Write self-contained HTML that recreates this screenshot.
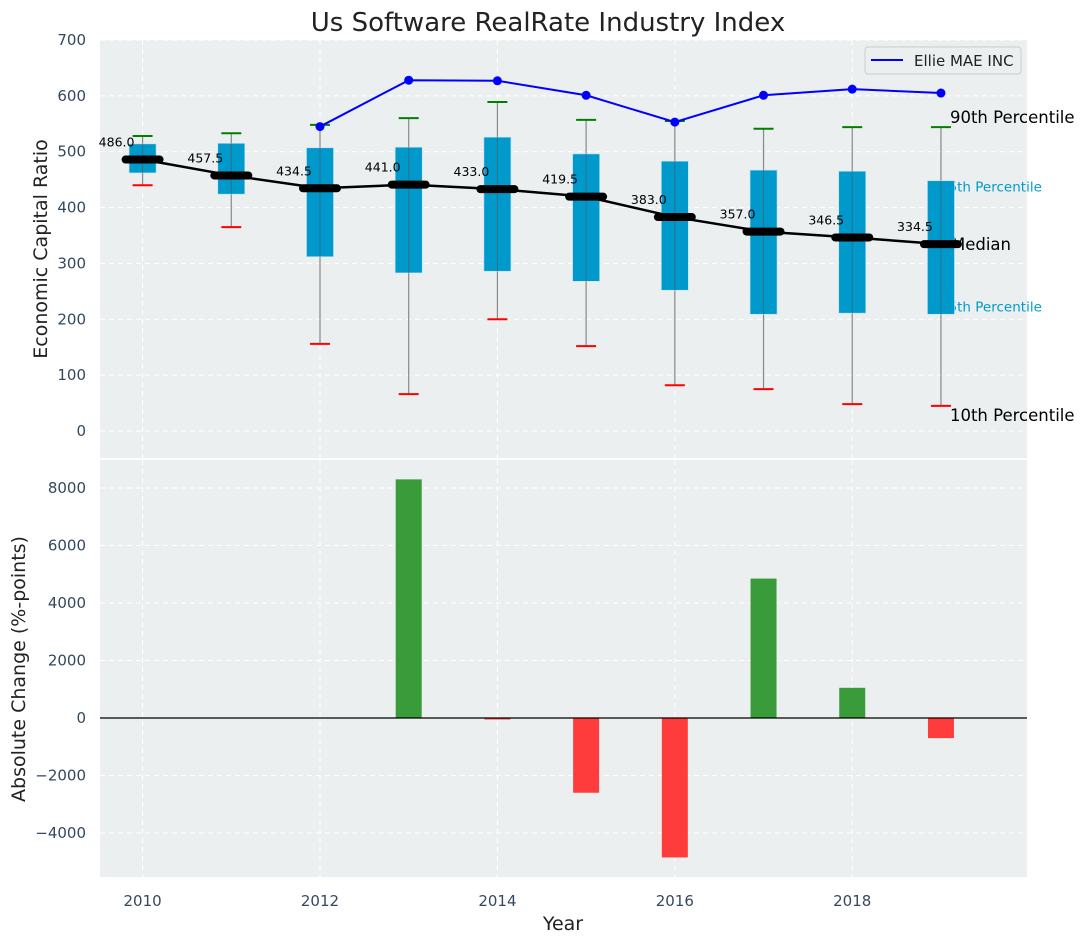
<!DOCTYPE html>
<html><head><meta charset="utf-8"><style>
body{margin:0;background:#fff;font-family:"DejaVu Sans","Liberation Sans",sans-serif}
</style></head><body>
<svg id="chart" width="1085" height="942" xmlns="http://www.w3.org/2000/svg" font-family="DejaVu Sans, Liberation Sans, sans-serif"></svg>
<script>
const years=[2010,2011,2012,2013,2014,2015,2016,2017,2018,2019];
const p90=[528,533,548,560,589,557,555,541,544,544];
const q75=[514,515,507,508,526,496,483,467,465,448];
const medians=[486.0,457.5,434.5,441.0,433.0,419.5,383.0,357.0,346.5,334.5];
const q25=[462,424,312,283,286,268,252,209,211,209];
const p10=[440,365,156,66,200,152,82,75,48,45];
const ellie=[null,null,545,628,627,601,553,601,612,605];
const changes=[0,0,0,8300,-50,-2600,-4850,4850,1050,-700];
const topTicks=[0,100,200,300,400,500,600,700];
const botTicks=[-4000,-2000,0,2000,4000,6000,8000];
const xTicks=[2010,2012,2014,2016,2018];

const svg=document.getElementById('chart');
const NS='http://www.w3.org/2000/svg';
function el(tag,attrs,parent,text){const e=document.createElementNS(NS,tag);for(const k in attrs)e.setAttribute(k,attrs[k]);if(text!==undefined)e.textContent=text;(parent||svg).appendChild(e);return e;}
const L=100,R=1027;
const x=v=>L+(v-2009.52)/(2019.97-2009.52)*(R-L);
const T0=40,T1=458; const yT=v=>431-v*0.5586;
const B0=460,B1=877; const yB=v=>718-v*0.02875;

let t=el('text',{x:548,y:31,'text-anchor':'middle','font-size':26,fill:'#222'},svg,'Us Software RealRate Industry Index');


let p=el('rect',{x:L,y:T0,width:R-L,height:T1-T0,fill:'#ebeff0'});

p=el('rect',{x:L,y:B0,width:R-L,height:B1-B0,fill:'#ebeff0'});


const g=el('g',{stroke:'#fff','stroke-dasharray':'5,4','stroke-width':1});

topTicks.forEach(v=>el('line',{x1:L,x2:R,y1:yT(v),y2:yT(v)},g));
botTicks.forEach(v=>el('line',{x1:L,x2:R,y1:yB(v),y2:yB(v)},g));
xTicks.forEach(v=>{el('line',{x1:x(v),x2:x(v),y1:T0,y2:T1},g);el('line',{x1:x(v),x2:x(v),y1:B0,y2:B1},g);});

topTicks.forEach(v=>{const e=el('text',{x:86,y:yT(v)+5,'text-anchor':'end','font-size':15,fill:'#34495e'},svg,String(v));});
botTicks.forEach(v=>{const e=el('text',{x:86,y:yB(v)+5,'text-anchor':'end','font-size':15,fill:'#34495e'},svg,String(v).replace('-','−'));});
xTicks.forEach(v=>{const e=el('text',{x:x(v),y:906,'text-anchor':'middle','font-size':15,fill:'#34495e'},svg,String(v));});

let a=el('text',{x:47,y:249,'text-anchor':'middle','font-size':19,fill:'#222',transform:'rotate(-90 47 249)'},svg,'Economic Capital Ratio');

a=el('text',{x:25,y:669,'text-anchor':'middle','font-size':19,fill:'#222',transform:'rotate(-90 25 669)'},svg,'Absolute Change (%-points)');

a=el('text',{x:563,y:930,'text-anchor':'middle','font-size':19,fill:'#222'},svg,'Year');


const lx=x(2019);
const rl=[['90th Percentile',p90[9],-4,'#000',16.5,lx+9],['75th Percentile',q75[9],11,'#0099cc',13.5,lx-1],['Median',medians[9],6,'#000',16.5,lx+10],['25th Percentile',q25[9],-3,'#0099cc',13.5,lx-1],['10th Percentile',p10[9],15,'#000',16.5,lx+9]];
rl.forEach(r=>{const e=el('text',{x:r[5],y:yT(r[1])+r[2],'font-size':r[4],fill:r[3]},svg,r[0]);});

years.forEach((yr,i)=>{
  const cx=x(yr);
  let e=el('line',{x1:cx,x2:cx,y1:yT(p90[i]),y2:yT(p10[i]),stroke:'#888','stroke-width':1.2});
  
  e=el('rect',{x:cx-13.5,y:yT(q75[i]),width:27,height:yT(q25[i])-yT(q75[i]),fill:'#0099cc',stroke:'#bfe3ef','stroke-width':0.6});
  
  e=el('line',{x1:cx,x2:cx,y1:yT(q75[i]),y2:yT(q25[i]),stroke:'#555','stroke-width':1,opacity:0.6});
  
  e=el('line',{x1:cx-10,x2:cx+10,y1:yT(p90[i]),y2:yT(p90[i]),stroke:'green','stroke-width':2});
  
  e=el('line',{x1:cx-10,x2:cx+10,y1:yT(p10[i]),y2:yT(p10[i]),stroke:'red','stroke-width':2});
  
});
let pl=el('polyline',{points:years.map((yr,i)=>x(yr)+','+yT(medians[i])).join(' '),fill:'none',stroke:'#000','stroke-width':2.5});

years.forEach((yr,i)=>{
  const cx=x(yr);
  let e=el('line',{x1:cx-17,x2:cx+17,y1:yT(medians[i]),y2:yT(medians[i]),stroke:'#000','stroke-width':8,'stroke-linecap':'round'});
  
  e=el('text',{x:cx-26,y:yT(medians[i])-13,'text-anchor':'middle','font-size':12.5,fill:'#000'},svg,medians[i].toFixed(1));
  
});
const pts=[];years.forEach((yr,i)=>{if(ellie[i]!==null)pts.push([x(yr),yT(ellie[i])]);});
pl=el('polyline',{points:pts.map(q=>q.join(',')).join(' '),fill:'none',stroke:'#0000ff','stroke-width':2});

pts.forEach(q=>{const e=el('circle',{cx:q[0],cy:q[1],r:4.5,fill:'#0000ff'});});

const lg=el('g',{});
el('rect',{x:865,y:47,width:156,height:27,rx:3,fill:'#ebeff0',stroke:'#ccc'},lg);
el('line',{x1:871,x2:903,y1:60,y2:60,stroke:'#0000ff','stroke-width':2},lg);
el('text',{x:914,y:66,'font-size':15,fill:'#222'},lg,'Ellie MAE INC');

years.forEach((yr,i)=>{
  if(changes[i]===0)return;
  const y0=yB(0),y1=yB(changes[i]);
  const e=el('rect',{x:x(yr)-13,y:Math.min(y0,y1),width:26,height:Math.max(1.5,Math.abs(y1-y0)),fill:changes[i]>0?'#3a9b3a':'#ff3c3c'});
  
});
let z=el('line',{x1:L,x2:R,y1:yB(0),y2:yB(0),stroke:'#000','stroke-width':1.2});

</script>
</body></html>
